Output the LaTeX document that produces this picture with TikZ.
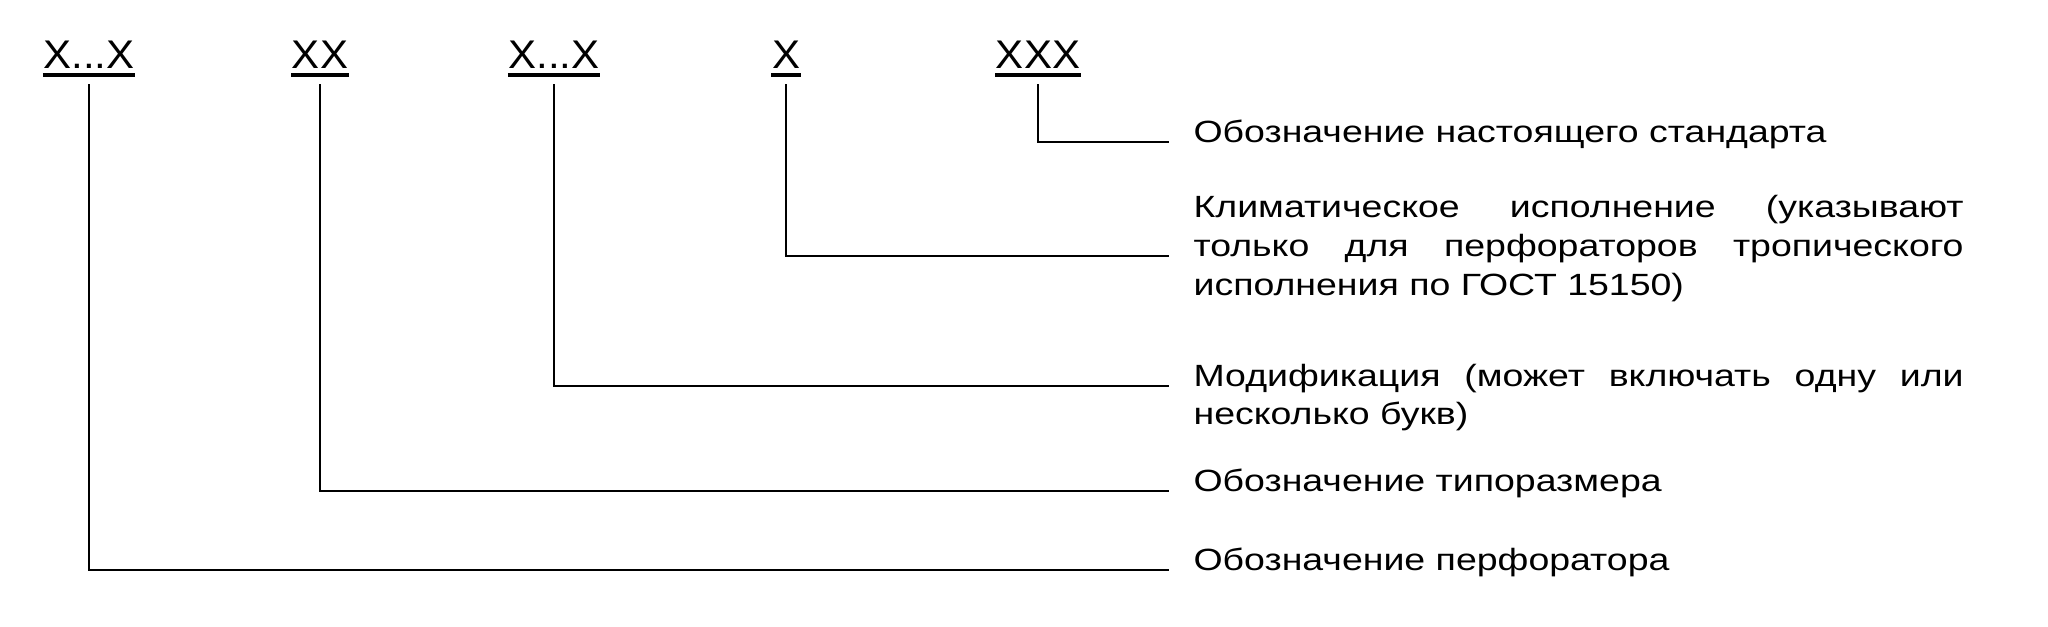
\documentclass[tikz,border=0pt]{standalone}
\usepackage{fontspec}
\setmainfont{Liberation Sans}
\newfontfamily\bodyfont[FakeStretch=1.22]{Liberation Sans}
\newfontfamily\labfont[FakeStretch=1.05]{Liberation Sans}
\begin{document}
\begin{tikzpicture}[x=0.35pt,y=-0.35pt,
  lab/.style={inner sep=0pt, anchor=base, font=\labfont\fontsize{14}{16}\selectfont},
  txt/.style={inner sep=0pt, anchor=base west, font=\bodyfont\fontsize{10.75}{13}\selectfont},
  lead/.style={line width=0.45pt},
  uline/.style={line width=1.4pt}]
\useasboundingbox (0,0) rectangle (2048,626);
% designation labels
\node[lab] (l1) at (89,68) {X...X};
\node[lab] (l2) at (320,68) {XX};
\node[lab] (l3) at (554,68) {X...X};
\node[lab] (l4) at (786,68) {X};
\node[lab] (l5) at (1038,68) {XXX};
\foreach \n in {l1,l2,l3,l4,l5}
  \draw[uline] ([yshift=-2.45pt]\n.base west) -- ([yshift=-2.45pt]\n.base east);
% explanation texts
\node[txt] (t5) at (1193,142) {Обозначение настоящего стандарта};
\node[txt] (t4a) at (1193,217) {\makebox[269.5pt][s]{Климатическое исполнение (указывают}};
\node[txt] (t4b) at (1193,256) {\makebox[269.5pt][s]{только для перфораторов тропического}};
\node[txt] (t4c) at (1193,295) {исполнения по ГОСТ 15150)};
\node[txt] (t3a) at (1193,386) {\makebox[269.5pt][s]{Модификация (может включать одну или}};
\node[txt] (t3b) at (1193,424) {несколько букв)};
\node[txt] (t2) at (1193,491) {Обозначение типоразмера};
\node[txt] (t1) at (1193,570) {Обозначение перфоратора};
% leaders
\draw[lead] ([yshift=-5.6pt]l5.base) |- ([xshift=-8.4pt]t5.base west);
\draw[lead] ([yshift=-5.6pt]l4.base) |- ([xshift=-8.4pt]t4b.base west);
\draw[lead] ([yshift=-5.6pt]l3.base) |- ([xshift=-8.4pt]t3a.base west);
\draw[lead] ([yshift=-5.6pt]l2.base) |- ([xshift=-8.4pt]t2.base west);
\draw[lead] ([yshift=-5.6pt]l1.base) |- ([xshift=-8.4pt]t1.base west);
\end{tikzpicture}
\end{document}
